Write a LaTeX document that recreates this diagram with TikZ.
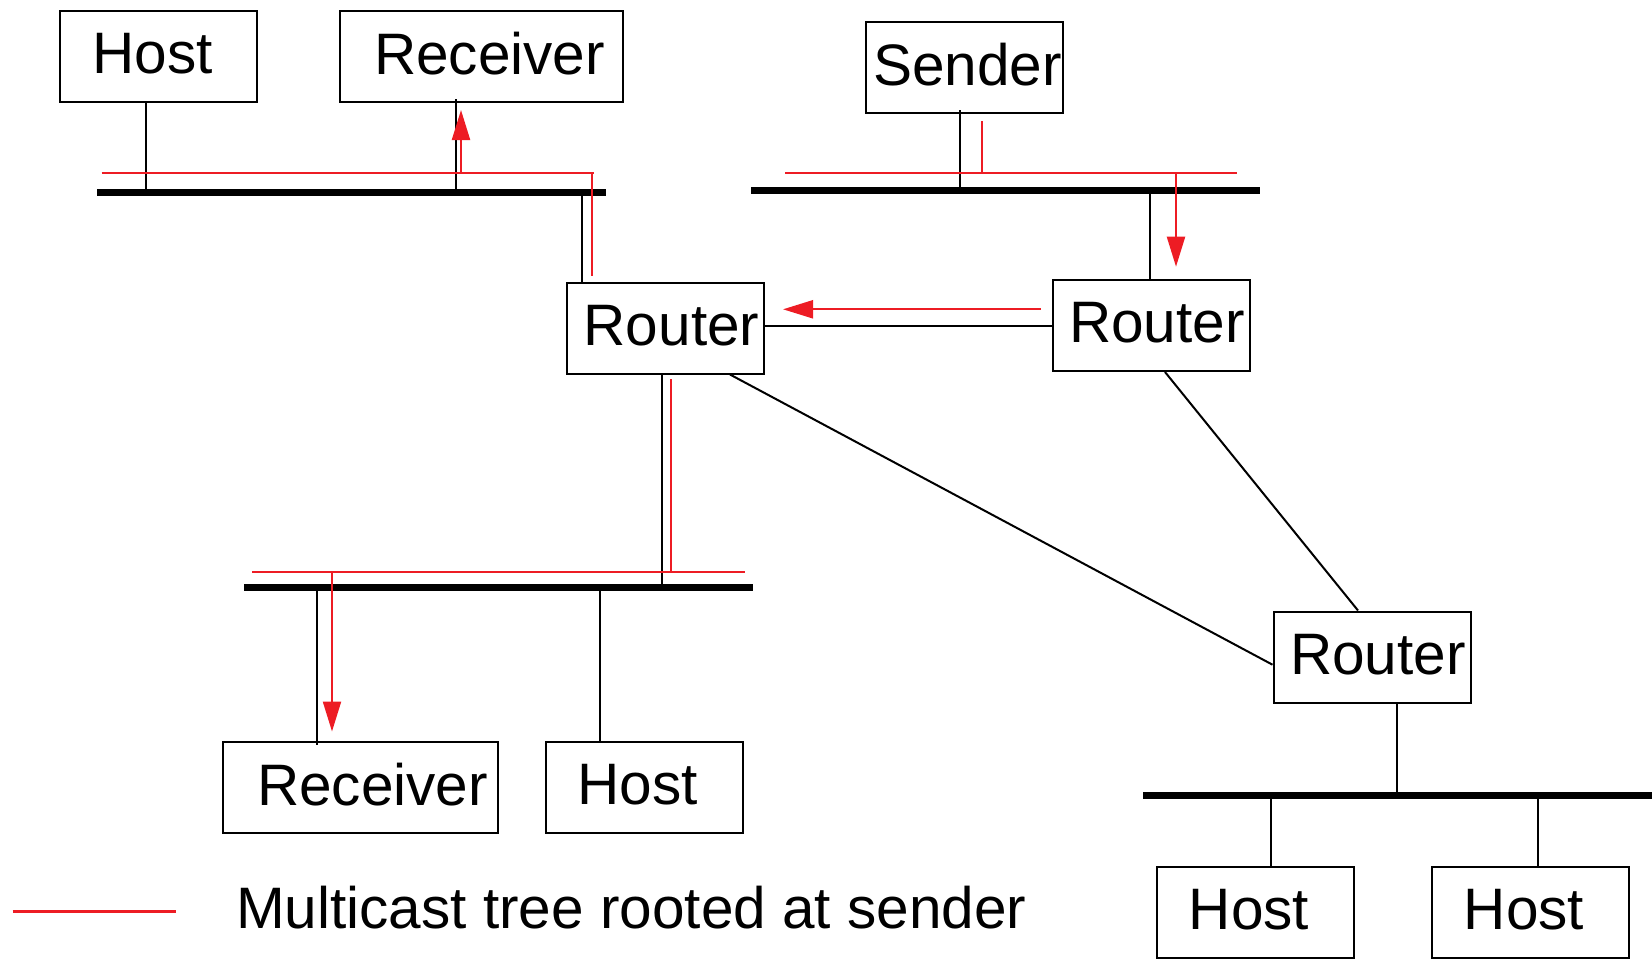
\documentclass[tikz,border=0pt]{standalone}
\usepackage{fontspec}
\setmainfont{Liberation Sans}
\usepackage{tikz}
\usetikzlibrary{arrows.meta}
\definecolor{treered}{RGB}{237,28,36}
\newcommand{\boxfont}{\fontsize{58.5}{60}\selectfont}

\begin{document}
\begin{tikzpicture}[x=1pt,y=-1pt,
    box/.style={draw,line width=2pt,minimum width=197pt,minimum height=91pt,inner sep=0pt,text depth=6pt,font=\boxfont},
    wire/.style={line width=2pt},
    bus/.style={line width=7pt},
    tree/.style={treered,line width=2.2pt},
    treearrow/.style={tree,-{Triangle[length=30pt,width=18pt]}}]
  \useasboundingbox (0,0) rectangle (1652,961);

  % hosts, sender, receivers
  \node[box] (hostA) at (158.5,56.5) {Host\hspace*{12pt}};
  \node[box,minimum width=283pt] (recvA) at (481.5,56.5) {\hspace*{16pt}Receiver};
  \node[box] (sender) at (964.5,67) {\hspace*{6pt}Sender};
  \node[box,minimum width=275pt] (recvB) at (360.5,787) {\hspace*{24pt}Receiver};
  \node[box] (hostB) at (644.7,787) {Host\hspace*{14pt}};
  \node[box] (hostC) at (1255,912.5) {Host\hspace*{12pt}};
  \node[box] (hostD) at (1530,912.5) {Host\hspace*{12pt}};

  % routers
  \node[box] (routerA) at (665.5,328) {\hspace*{12pt}Router};
  \node[box] (routerB) at (1151,325.5) {\hspace*{12pt}Router};
  \node[box] (routerC) at (1372,657) {\hspace*{12pt}Router};

  % LAN segments
  \coordinate (lanA-w) at (97,192);
  \coordinate (lanA-e) at (606,192);
  \coordinate (lanB-w) at (751,190);
  \coordinate (lanB-e) at (1259.5,190);
  \coordinate (lanC-w) at (244,587);
  \coordinate (lanC-e) at (753,587);
  \coordinate (lanD-w) at (1143,795);
  \coordinate (lanD-e) at (1652,795);
  \draw[bus] (lanA-w) -- (lanA-e);
  \draw[bus] (lanB-w) -- (lanB-e);
  \draw[bus] (lanC-w) -- (lanC-e);
  \draw[bus] (lanD-w) -- (lanD-e);

  % taps on the segments
  \coordinate (tapA1) at (146.4,192);
  \coordinate (tapA2) at (456,192);
  \coordinate (tapA3) at (581.7,192);
  \coordinate (tapB1) at (960,190);
  \coordinate (tapB2) at (1149.7,190);
  \coordinate (tapC1) at (317,587);
  \coordinate (tapC2) at (600,587);
  \coordinate (tapC3) at (661.5,587);
  \coordinate (tapD1) at (1271.4,795);
  \coordinate (tapD2) at (1397.4,795);
  \coordinate (tapD3) at (1538,795);

  \draw[wire] (tapA1) -- (tapA1 |- hostA.south);
  \draw[wire] (tapA2) -- ([yshift=4pt]tapA2 |- recvA.south);
  \draw[wire] (tapA3) -- (tapA3 |- routerA.north);
  \draw[wire] (tapB1) -- ([yshift=4pt]tapB1 |- sender.south);
  \draw[wire] (tapB2) -- (tapB2 |- routerB.north);
  \draw[wire] (tapC1) -- ([yshift=-4pt]tapC1 |- recvB.north);
  \draw[wire] (tapC2) -- (tapC2 |- hostB.north);
  \draw[wire] (tapC3) -- (tapC3 |- routerA.south);
  \draw[wire] (tapD1) -- (tapD1 |- hostC.north);
  \draw[wire] (tapD2) -- (tapD2 |- routerC.south);
  \draw[wire] (tapD3) -- (tapD3 |- hostD.north);

  % links between routers
  \draw[wire] (routerB.west) -- (routerB.west -| routerA.east);
  \draw[wire] ([xshift=14pt]routerB.south) -- ([xshift=-14pt]routerC.north);
  \draw[wire] ([xshift=64.5pt]routerA.south) -- ([yshift=-7.7pt]routerC.west);

  % multicast tree
  \coordinate (treeA-w) at (101.6,173.3);
  \coordinate (treeA-e) at (594,173.3);
  \coordinate (treeA-r) at (592,173.3);
  \coordinate (treeA-up) at (461,173.3);
  \coordinate (treeB-w) at (785,173.3);
  \coordinate (treeB-e) at (1236.5,173.3);
  \coordinate (treeB-s) at (981.7,173.3);
  \coordinate (treeB-dn) at (1176,173.3);
  \coordinate (treeB-out) at (1040.6,309.3);
  \coordinate (treeC-w) at (252,572.3);
  \coordinate (treeC-e) at (745,572.3);
  \coordinate (treeC-r) at (670.7,572.3);
  \coordinate (treeC-dn) at (332,572.3);

  \draw[tree] (treeA-w) -- (treeA-e);
  \draw[tree] (treeA-r) -- ([yshift=6pt]treeA-r |- routerA.north);
  \draw[treearrow] (treeA-up) -- (treeA-up |- 0,110);
  \draw[tree] (treeB-w) -- (treeB-e);
  \draw[tree] (treeB-s) -- ([yshift=-7pt]treeB-s |- sender.south);
  \draw[treearrow] (treeB-dn) -- (treeB-dn |- 0,266.7);
  \draw[treearrow] (treeB-out) -- ([xshift=18pt]treeB-out -| routerA.east);
  \draw[tree] (treeC-r) -- ([yshift=-4pt]treeC-r |- routerA.south);
  \draw[tree] (treeC-w) -- (treeC-e);
  \draw[treearrow] (treeC-dn) -- ([yshift=9pt]treeC-dn |- recvB.north);

  % legend
  \coordinate (key-w) at (12.6,911.4);
  \coordinate (key-e) at (176,911.4);
  \draw[tree] (key-w) -- (key-e);
  \node[anchor=base west,inner sep=0pt,font=\boxfont] (legend) at (236,928) {Multicast tree rooted at sender};
\end{tikzpicture}
\end{document}
